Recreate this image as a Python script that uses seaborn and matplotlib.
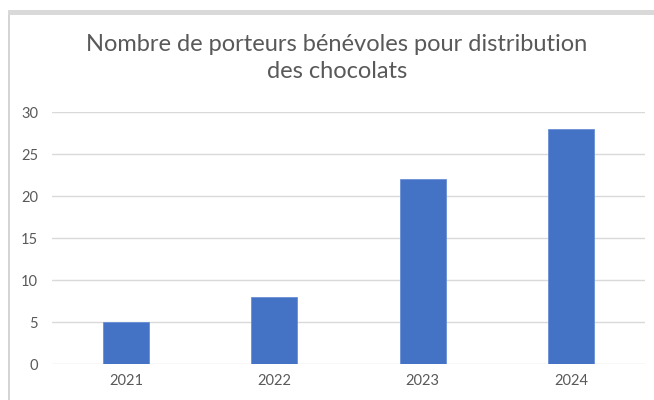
import seaborn as sns
import matplotlib.pyplot as plt
import pandas as pd
from matplotlib.patches import Rectangle

# donnees
annees = ["2021", "2022", "2023", "2024"]
porteurs = [5, 8, 22, 28]

df = pd.DataFrame({"annee": annees, "porteurs": porteurs})

sns.set_style("white")
plt.rcParams['font.family'] = ['Lato', 'DejaVu Sans']

fig = plt.figure(figsize=(6.54, 4.0), dpi=100)
ax = fig.add_axes([0.0795, 0.09, 0.907, 0.63])

sns.barplot(data=df, x="annee", y="porteurs", color="#4472C4", width=0.31,
            saturation=1, ax=ax, edgecolor="#6a8fd6", linewidth=0.6, zorder=3)

ax.set_ylim(0, 30)
ax.set_yticks(range(0, 31, 5))
ax.set_xlim(-0.5, 3.5)
ax.yaxis.grid(True, color="#d9d9d9", linewidth=1, zorder=0)
ax.set_axisbelow(True)
for s in ax.spines.values():
    s.set_visible(False)
ax.set_xlabel("")
ax.set_ylabel("")
ax.tick_params(axis="both", length=0, labelsize=10.5, labelcolor="#595959")
ax.tick_params(axis="y", pad=10)
ax.tick_params(axis="x", pad=7)

fig.text(0.515, 0.855, "Nombre de porteurs bénévoles pour distribution\ndes chocolats",
         ha="center", va="center", fontsize=17, color="#595959", linespacing=1.32)

# cadre gris du graphique
fig.add_artist(Rectangle((8/654, 0), 2/654, 390/400, transform=fig.transFigure,
                         color="#d4d4d4", lw=0))
fig.add_artist(Rectangle((8/654, 385/400), 646/654, 5/400, transform=fig.transFigure,
                         color="#d9d9d9", lw=0))

plt.savefig("out.png", dpi=100)
